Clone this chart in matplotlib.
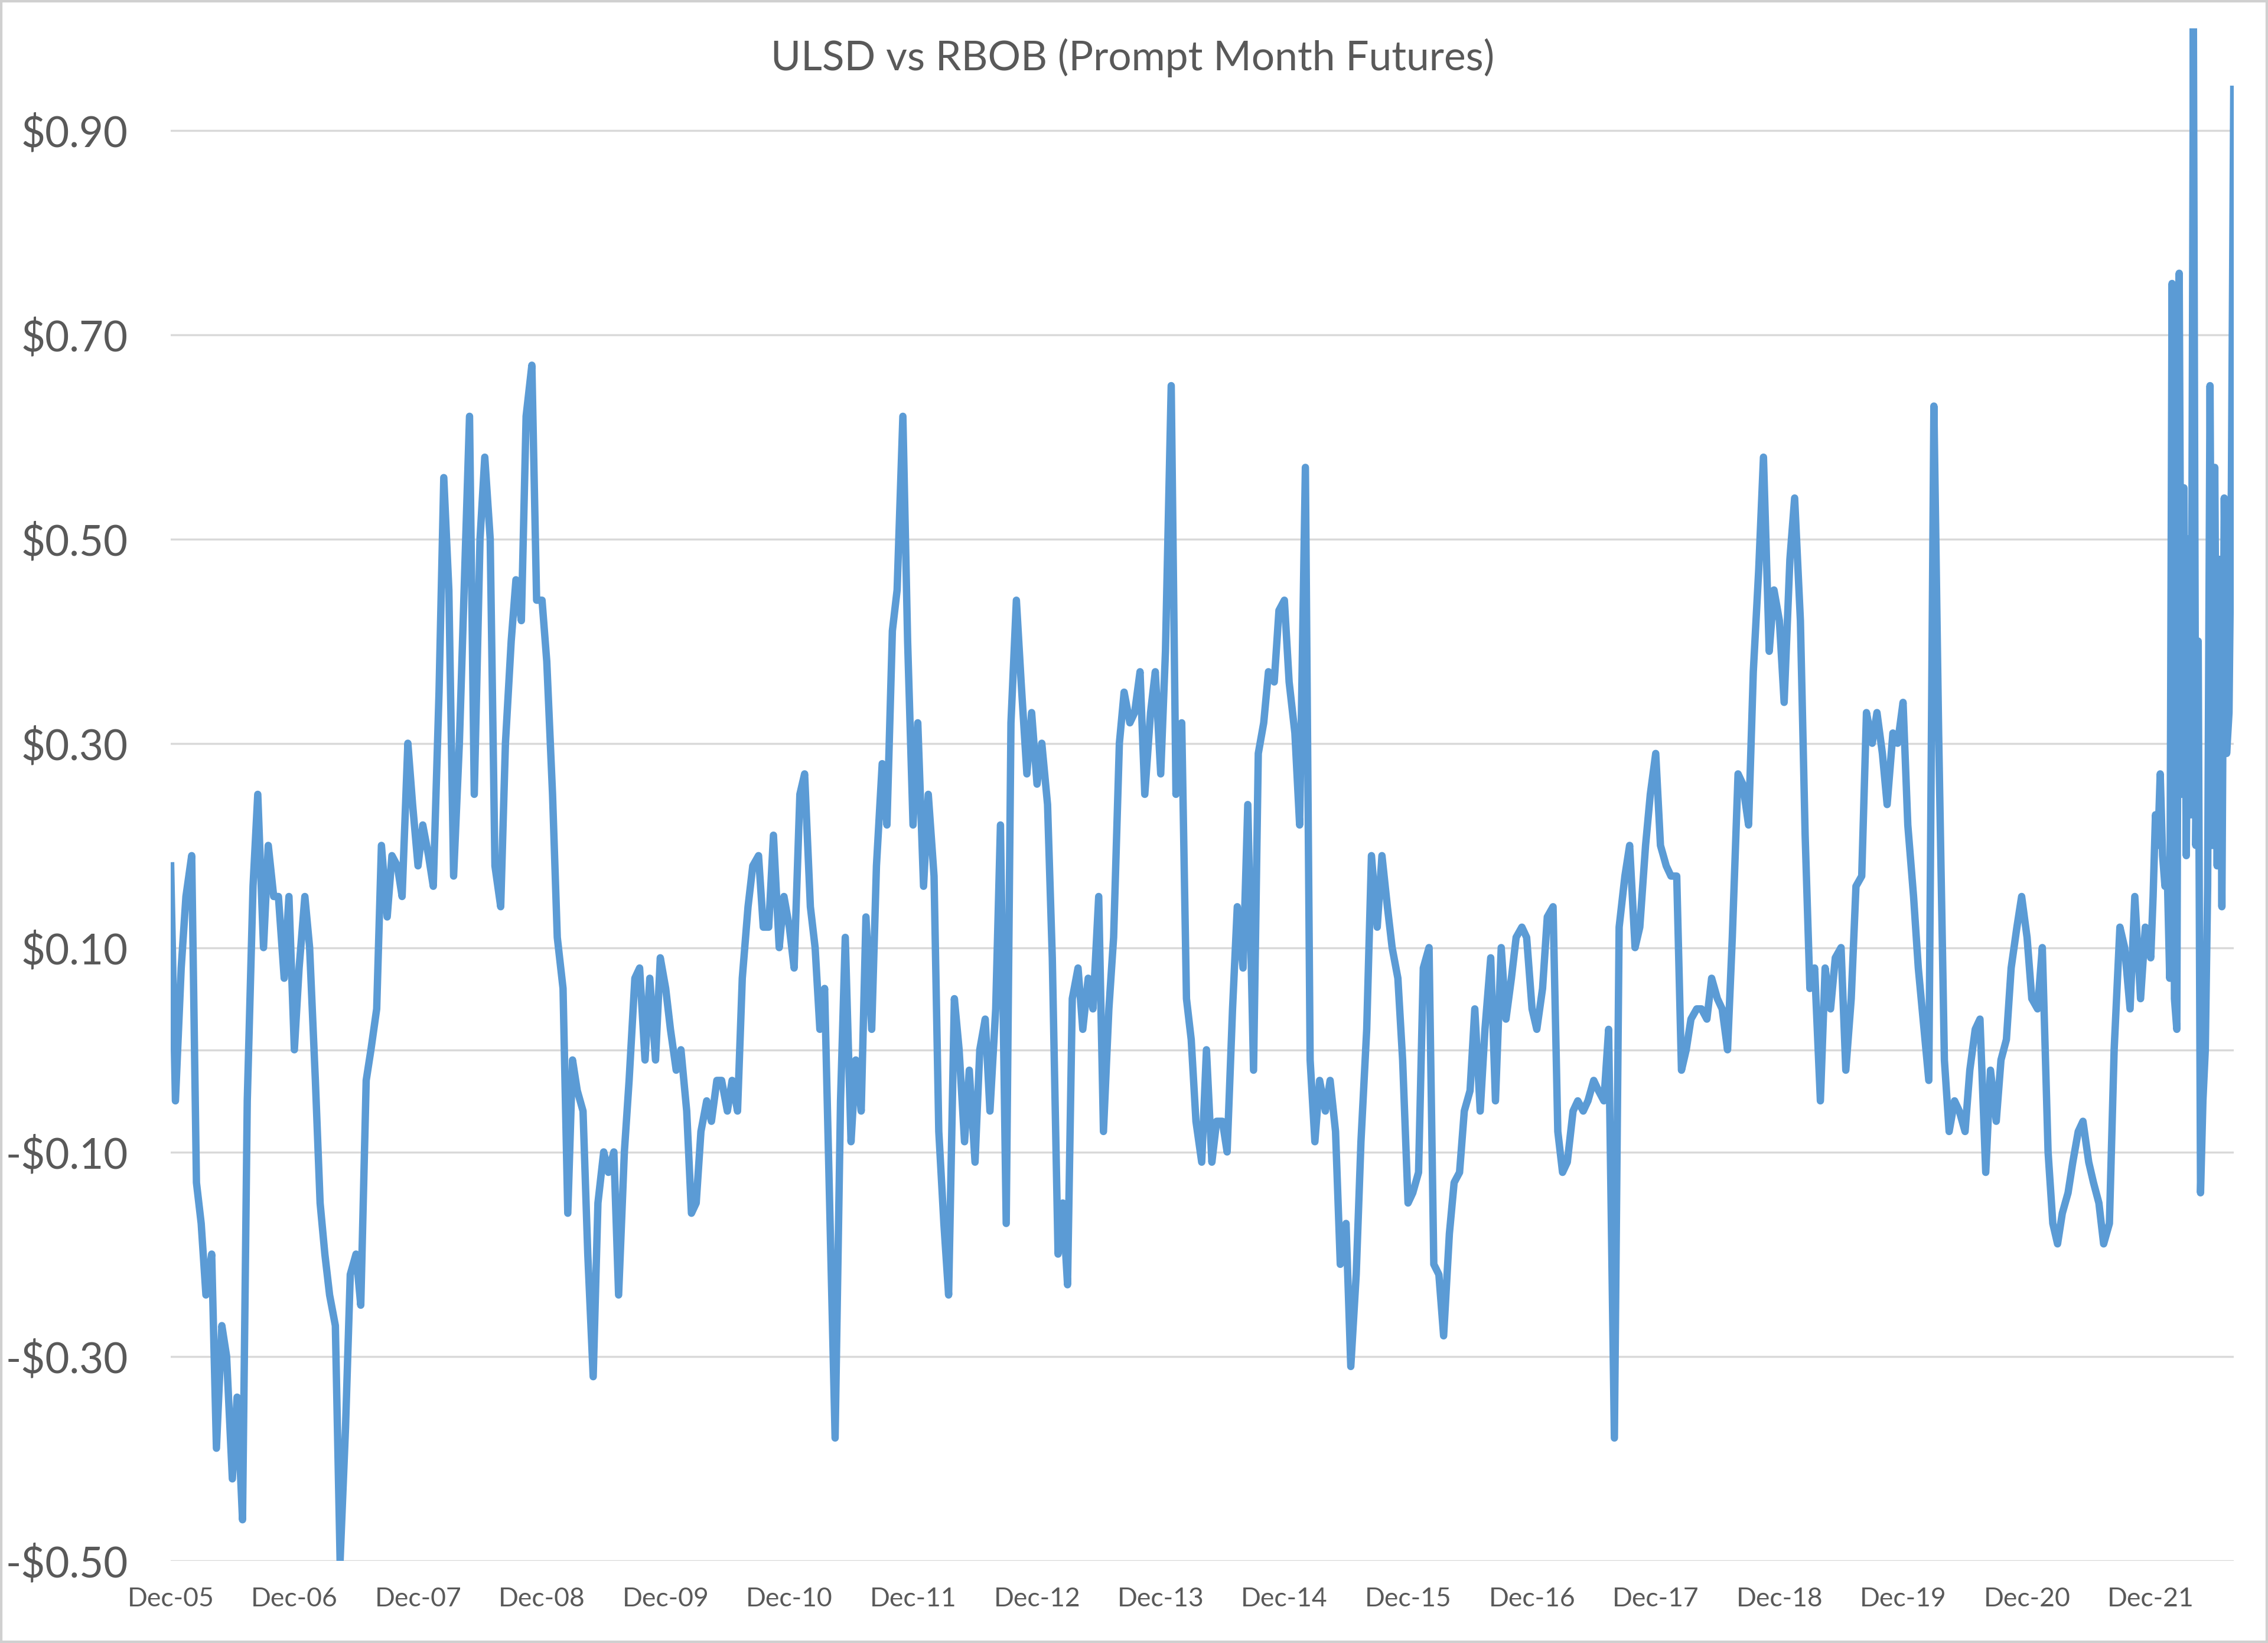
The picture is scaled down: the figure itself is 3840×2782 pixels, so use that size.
import matplotlib
matplotlib.use("Agg")
import matplotlib.pyplot as plt
import matplotlib.dates as mdates
from matplotlib.patches import Rectangle
from matplotlib.ticker import FuncFormatter
import pandas as pd
from datetime import datetime

# ---------------- data ----------------
title = "ULSD vs RBOB (Prompt Month Futures)"

# ULSD minus RBOB spread ($/gal), read semi-monthly from Dec-2005 to Nov-2021
semi_monthly_start = "2005-12-01"
spread_semi_monthly = [
    0.18, -0.05, 0.08, 0.15, 0.19, -0.13, -0.17, -0.24, -0.20, -0.39,
    -0.27, -0.30, -0.42, -0.34, -0.46, -0.05, 0.16, 0.25, 0.10, 0.20,
    0.15, 0.15, 0.07, 0.15, 0.00, 0.08, 0.15, 0.10, -0.03, -0.15,
    -0.20, -0.24, -0.27, -0.50, -0.37, -0.22, -0.20, -0.25, -0.03, 0.00,
    0.04, 0.20, 0.13, 0.19, 0.18, 0.15, 0.30, 0.24, 0.18, 0.22,
    0.19, 0.16, 0.35, 0.56, 0.45, 0.17, 0.30, 0.45, 0.62, 0.25,
    0.50, 0.58, 0.50, 0.18, 0.14, 0.30, 0.40, 0.46, 0.42, 0.62,
    0.67, 0.44, 0.44, 0.38, 0.25, 0.11, 0.06, -0.16, -0.01, -0.04,
    -0.06, -0.20, -0.32, -0.15, -0.10, -0.12, -0.10, -0.24, -0.10, -0.03,
    0.07, 0.08, -0.01, 0.07, -0.01, 0.09, 0.06, 0.02, -0.02, 0.00,
    -0.06, -0.16, -0.15, -0.08, -0.05, -0.07, -0.03, -0.03, -0.06, -0.03,
    -0.06, 0.07, 0.14, 0.18, 0.19, 0.12, 0.12, 0.21, 0.10, 0.15,
    0.12, 0.08, 0.25, 0.27, 0.14, 0.10, 0.02, 0.06, -0.18, -0.38,
    -0.05, 0.11, -0.09, -0.01, -0.06, 0.13, 0.02, 0.18, 0.28, 0.22,
    0.41, 0.45, 0.62, 0.40, 0.22, 0.32, 0.16, 0.25, 0.17, -0.08,
    -0.17, -0.24, 0.05, 0.00, -0.09, -0.02, -0.11, 0.00, 0.03, -0.06,
    0.04, 0.22, -0.17, 0.32, 0.44, 0.36, 0.27, 0.33, 0.26, 0.30,
    0.24, 0.09, -0.20, -0.15, -0.23, 0.05, 0.08, 0.02, 0.07, 0.04,
    0.15, -0.08, 0.04, 0.11, 0.30, 0.35, 0.32, 0.33, 0.37, 0.25,
    0.33, 0.37, 0.27, 0.39, 0.65, 0.25, 0.32, 0.05, 0.01, -0.07,
    -0.11, 0.00, -0.11, -0.07, -0.07, -0.10, 0.04, 0.14, 0.08, 0.24,
    -0.02, 0.29, 0.32, 0.37, 0.36, 0.43, 0.44, 0.36, 0.31, 0.22,
    0.57, -0.01, -0.09, -0.03, -0.06, -0.03, -0.08, -0.21, -0.17, -0.31,
    -0.22, -0.09, 0.02, 0.19, 0.12, 0.19, 0.14, 0.10, 0.07, -0.01,
    -0.15, -0.14, -0.12, 0.08, 0.10, -0.21, -0.22, -0.28, -0.18, -0.13,
    -0.12, -0.06, -0.04, 0.04, -0.06, 0.02, 0.09, -0.05, 0.10, 0.03,
    0.07, 0.11, 0.12, 0.11, 0.04, 0.02, 0.06, 0.13, 0.14, -0.08,
    -0.12, -0.11, -0.06, -0.05, -0.06, -0.05, -0.03, -0.04, -0.05, 0.02,
    -0.38, 0.12, 0.17, 0.20, 0.10, 0.12, 0.20, 0.25, 0.29, 0.20,
    0.18, 0.17, 0.17, -0.02, 0.00, 0.03, 0.04, 0.04, 0.03, 0.07,
    0.05, 0.04, 0.00, 0.11, 0.27, 0.26, 0.22, 0.37, 0.47, 0.58,
    0.39, 0.45, 0.42, 0.34, 0.48, 0.54, 0.42, 0.21, 0.06, 0.08,
    -0.05, 0.08, 0.04, 0.09, 0.10, -0.02, 0.05, 0.16, 0.17, 0.33,
    0.30, 0.33, 0.29, 0.24, 0.31, 0.30, 0.34, 0.22, 0.15, 0.08,
    0.02, -0.03, 0.63, 0.31, -0.01, -0.08, -0.05, -0.06, -0.08, -0.02,
    0.02, 0.03, -0.12, -0.02, -0.07, -0.01, 0.01, 0.08, 0.12, 0.15,
    0.11, 0.05, 0.04, 0.10, -0.10, -0.17, -0.19, -0.16, -0.14, -0.11,
    -0.08, -0.07, -0.11, -0.13, -0.15, -0.19, -0.17, 0.00, 0.12, 0.10,
    0.04, 0.15, 0.05, 0.12,
]

# weekly readings for the volatile Dec-2021 .. Aug-2022 stretch
weekly_start = "2021-12-01"
spread_weekly = [
    0.09, 0.15, 0.23, 0.20, 0.27, 0.19, 0.16, 0.17, 0.07, 0.75,
    0.05, 0.02, 0.76, 0.25, 0.55, 0.19, 0.50, 0.23, 1.00, 0.20,
    0.40, -0.14, -0.05, 0.00, 0.16, 0.65, 0.20, 0.57, 0.18, 0.48,
    0.14, 0.54, 0.29, 0.33, 0.55, 0.94,
]

x_tick_years = list(range(2005, 2022))      # "Dec-YY" labels
y_ticks = [-0.50, -0.30, -0.10, 0.10, 0.30, 0.50, 0.70, 0.90]
y_limits = (-0.50, 1.00)

# ---------------- build series ----------------
d1 = pd.date_range(semi_monthly_start, periods=len(spread_semi_monthly), freq="SMS")
d2 = pd.date_range(weekly_start, periods=len(spread_weekly), freq="7D")
dates = list(d1) + list(d2)
values = spread_semi_monthly + spread_weekly

# ---------------- figure ----------------
W, H, DPI = 3840, 2782, 100
fig = plt.figure(figsize=(W / DPI, H / DPI), dpi=DPI)
fig.patch.set_facecolor("white")

ax = fig.add_axes([289 / W, 1 - 2642.5 / H, (3782 - 289) / W, (2642.5 - 47.5) / H])
ax.set_facecolor("white")

text_color = "#595959"
grid_color = "#D9D9D9"
line_color = "#5B9BD5"
font = ["Lato", "DejaVu Sans"]

ax.plot(dates, values, color=line_color, linewidth=9.0, solid_joinstyle="round",
        zorder=3, clip_on=True)

ax.set_ylim(*y_limits)
ax.set_xlim(dates[0], dates[-1])

ax.set_yticks(y_ticks)
ax.yaxis.set_major_formatter(FuncFormatter(
    lambda v, p: ("-$%.2f" % abs(v)) if v < -1e-9 else ("$%.2f" % v)))
ax.grid(axis="y", color=grid_color, linewidth=2.5, zorder=0)
ax.axhline(0, color=grid_color, linewidth=2.5, zorder=1)

xt = [datetime(y, 12, 1) for y in x_tick_years]
ax.set_xticks(xt)
ax.xaxis.set_major_formatter(mdates.DateFormatter("%b-%y"))

for s in ax.spines.values():
    s.set_visible(False)

ax.tick_params(axis="y", length=0, pad=52, labelsize=51, labelcolor=text_color)
ax.tick_params(axis="x", length=0, pad=32, labelsize=32, labelcolor=text_color)
for lbl in ax.get_yticklabels() + ax.get_xticklabels():
    lbl.set_family(font)

fig.text(0.4995, 1 - 98 / H, title, ha="center", va="center",
         fontsize=50, color=text_color, family=font)

fig.patches.append(Rectangle((0, 0), 1, 1, transform=fig.transFigure,
                             fill=False, edgecolor="#D0D0D0", linewidth=6))

fig.savefig("out.png", dpi=DPI, facecolor="white")
